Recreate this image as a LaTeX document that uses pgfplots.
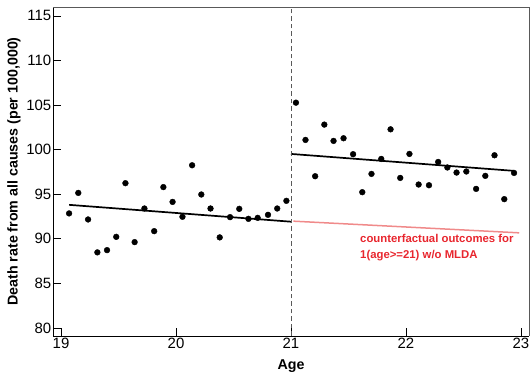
\documentclass[border=0pt]{standalone}
\usepackage{fontspec}
\setmainfont{Liberation Sans}
\usepackage{pgfplots}
\pgfplotsset{compat=1.18}
\definecolor{cfred}{HTML}{E8262E}
\definecolor{cfline}{HTML}{F08A8A}
\begin{document}
\begin{tikzpicture}
\begin{axis}[
  scale only axis,
  width=476bp, height=329bp,
  xmin=18.93, xmax=23.07,
  ymin=79.1, ymax=116.0,
  xtick={19,20,21,22,23},
  ytick={80,85,90,95,100,105,110,115},
  axis lines*=left,
  axis line style={black, line width=0.9bp},
  tick align=inside,
  major tick length=8bp,
  tick style={black, line width=0.7bp},
  /pgf/number format/assume math mode=true,
  ticklabel style={font=\fontsize{15}{18}\selectfont},
  yticklabel style={inner sep=1.5bp},
  xticklabel style={inner sep=2bp},
  xlabel={Age},
  ylabel={Death rate from all causes (per 100,000)},
  label style={font=\fontsize{14.3}{17}\selectfont\bfseries},
  xlabel style={at={(axis description cs:0.5,-0.091)}, anchor=center},
  ylabel style={at={(axis description cs:-0.082,0.5)}, anchor=center},
  clip=false,
]
% left data
\addplot[only marks, mark=*, mark size=2.9bp, black] coordinates {
(19.07,92.85) (19.15,95.15) (19.235,92.17) (19.316,88.48) (19.40,88.73)
(19.48,90.22) (19.56,96.24) (19.64,89.63) (19.725,93.4) (19.81,90.86)
(19.89,95.8) (19.97,94.14) (20.056,92.47) (20.14,98.25) (20.22,94.97)
(20.30,93.4) (20.38,90.16) (20.47,92.43) (20.55,93.36) (20.63,92.24)
(20.71,92.35) (20.80,92.69) (20.88,93.4) (20.96,94.26)
};
% right data
\addplot[only marks, mark=*, mark size=2.9bp, black] coordinates {
(21.043,105.27) (21.126,101.09) (21.21,97.02) (21.29,102.81) (21.37,100.98)
(21.457,101.28) (21.54,99.49) (21.62,95.23) (21.70,97.28) (21.785,98.96)
(21.866,102.28) (21.95,96.83) (22.03,99.52) (22.11,96.09) (22.20,96.01)
(22.28,98.62) (22.36,98.0) (22.44,97.43) (22.525,97.55) (22.61,95.6)
(22.69,97.06) (22.77,99.37) (22.855,94.45) (22.94,97.39)
};
% fit lines
\addplot[black, line width=1.7bp] coordinates {(19.07,93.81) (21.0,91.92)};
\addplot[black, line width=1.7bp] coordinates {(21.0,99.52) (22.94,97.62)};
\addplot[cfline, line width=1.5bp] coordinates {(21.02,91.98) (22.985,90.67)};
% cutoff
\addplot[gray!70!black, line width=1bp, dash pattern=on 4.5bp off 3bp] coordinates {(21,79.1) (21,116.0)};
\node[anchor=north west, align=left, text=cfred, inner sep=0pt,
  font=\fontsize{11.4}{15.3}\selectfont\bfseries] at (axis cs:21.6,90.5)
  {counterfactual outcomes for\\1(age>=21) w/o MLDA};
\end{axis}
\draw[gray!70!black, line width=0.8bp] (current axis.north west) -- (current axis.north east) -- (current axis.south east);
\pgfresetboundingbox
\path ([xshift=-53bp,yshift=-36bp]current axis.south west) rectangle ([xshift=2bp,yshift=7bp]current axis.north east);
\end{tikzpicture}
\end{document}
